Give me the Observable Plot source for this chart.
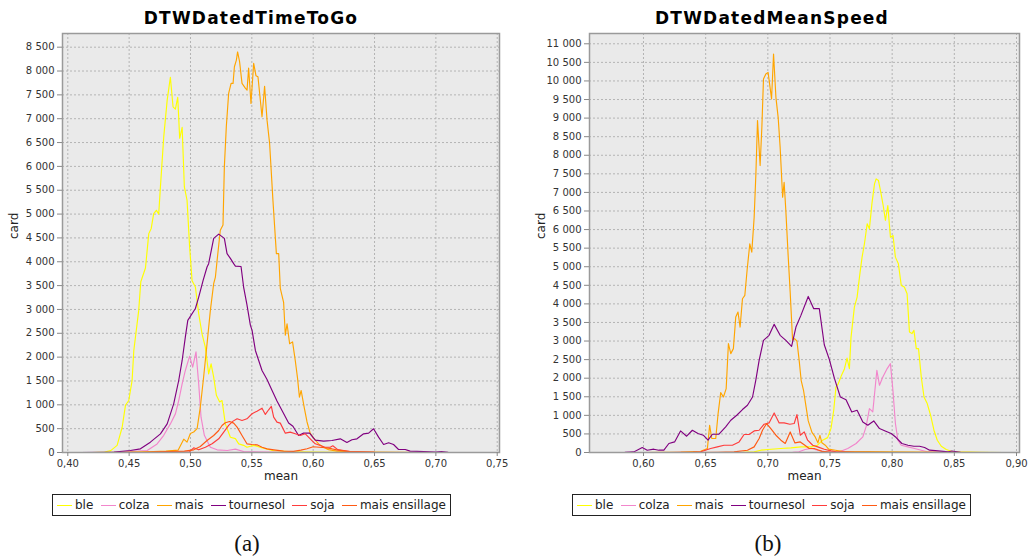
<!DOCTYPE html>
<html><head><meta charset="utf-8">
<script src="https://cdn.jsdelivr.net/npm/d3@7"></script>
<script src="https://cdn.jsdelivr.net/npm/@observablehq/plot@0.6"></script>
<style>
body{margin:0;background:#fff;}
#root{position:relative;width:1030px;height:559px;font-family:"DejaVu Sans",sans-serif;overflow:hidden;}
.title{position:absolute;top:10px;line-height:17px;font-weight:bold;font-size:17px;letter-spacing:1.2px;white-space:nowrap;transform:translateX(-50%);color:#000;}
.legend{position:absolute;top:494px;border:1px solid #222;display:flex;align-items:center;justify-content:space-between;padding:0 4px;box-sizing:border-box;width:399px;height:22px;font-size:12px;color:#222;background:#fff;}
.item{display:flex;align-items:center;white-space:nowrap;}
.sw{display:inline-block;width:15px;height:0;border-top:1.5px solid #000;margin-right:3px;}
.cap{position:absolute;top:530px;line-height:28px;font-family:"Liberation Serif",serif;font-size:23px;transform:translateX(-50%);color:#111;}
.panel{position:absolute;top:0;}
</style>
</head><body>
<div id="root"></div>
<script>
// ---------- data ----------
const seriesNames = ["ble", "colza", "mais", "tournesol", "soja", "mais ensillage"];
const seriesColors = ["#ffff00", "#f286cc", "#ffa500", "#800080", "#ff3c3c", "#ff5a14"];

const titleA = "DTWDatedTimeToGo";
const titleB = "DTWDatedMeanSpeed";
const xTicksA = [0.40, 0.45, 0.50, 0.55, 0.60, 0.65, 0.70, 0.75];
const xTicksB = [0.60, 0.65, 0.70, 0.75, 0.80, 0.85, 0.90];
const yTicksA = d3.range(0, 8501, 500);
const yTicksB = d3.range(0, 11001, 500);

// panel (a): [mean, card]
const aBle = [[0.41,0],[0.42,0],[0.43,10],[0.435,40],[0.4402,150],[0.4443,530],[0.447,990],[0.4497,1090],[0.4524,1510],[0.4538,2140],[0.4578,2980],[0.4595,3580],[0.4633,3870],[0.466,4590],[0.468,4700],[0.470,5010],[0.4722,5080],[0.4741,5000],[0.4755,5570],[0.4782,6620],[0.481,7390],[0.4836,7870],[0.4858,7250],[0.4877,7200],[0.4896,7450],[0.4912,6590],[0.4932,6820],[0.495,5570],[0.4972,5290],[0.4993,4310],[0.5013,3600],[0.504,3470],[0.5067,2910],[0.5094,2490],[0.5121,2210],[0.5148,1650],[0.5168,1860],[0.5189,1580],[0.5211,1200],[0.5238,1060],[0.5257,1090],[0.5284,600],[0.5325,320],[0.5366,290],[0.5393,180],[0.5433,150],[0.546,110],[0.5515,150],[0.558,100],[0.5677,40],[0.58,20],[0.60,10],[0.62,5],[0.65,0],[0.70,0]];
const aColza = [[0.42,0],[0.44,5],[0.451,20],[0.4647,42],[0.4728,180],[0.4782,360],[0.4836,600],[0.4877,810],[0.4904,1090],[0.4932,1440],[0.4958,1720],[0.4993,2020],[0.5018,1790],[0.5045,2110],[0.5067,1440],[0.5086,740],[0.5113,360],[0.5162,110],[0.5217,56],[0.53,42],[0.5366,70],[0.5433,20],[0.56,10],[0.60,0]];
const aMais = [[0.43,0],[0.45,10],[0.47,20],[0.48,30],[0.49,50],[0.4945,280],[0.4972,217],[0.4999,400],[0.5026,430],[0.5054,500],[0.508,950],[0.5107,1580],[0.5135,2280],[0.5162,2980],[0.5189,3540],[0.5203,3680],[0.5217,4030],[0.5243,4660],[0.5265,4770],[0.5276,5990],[0.5292,6830],[0.5311,7530],[0.5331,7740],[0.5347,7740],[0.5358,8090],[0.5374,8230],[0.5384,8400],[0.540,8200],[0.542,7740],[0.5447,7640],[0.5461,7600],[0.5474,8060],[0.5493,7320],[0.5515,8160],[0.5534,7900],[0.555,7880],[0.5583,7040],[0.5604,7680],[0.5624,6970],[0.5645,6480],[0.5672,5290],[0.57,4170],[0.5719,4170],[0.5732,3440],[0.5759,3150],[0.5773,2460],[0.5787,2700],[0.5808,2280],[0.5832,2320],[0.5854,1930],[0.5873,1550],[0.5888,1160],[0.5902,1300],[0.5928,930],[0.595,640],[0.5976,400],[0.6003,300],[0.6044,180],[0.6085,110],[0.6125,60],[0.6194,28],[0.63,15],[0.65,10],[0.70,0]];
const aTournesol = [[0.41,0],[0.43,5],[0.4377,10],[0.451,42],[0.4592,77],[0.4673,217],[0.4755,390],[0.481,600],[0.4863,1020],[0.4904,1510],[0.4932,1930],[0.4958,2420],[0.4978,2770],[0.504,3020],[0.5067,3260],[0.5103,3610],[0.5135,3890],[0.5148,3960],[0.5189,4490],[0.523,4580],[0.5276,4490],[0.5298,4170],[0.5325,4070],[0.5352,3960],[0.5366,3910],[0.5412,3900],[0.5433,3470],[0.546,3100],[0.5488,2670],[0.5502,2560],[0.5529,2140],[0.5583,1720],[0.5624,1530],[0.5665,1300],[0.5705,1080],[0.5746,880],[0.58,620],[0.5835,550],[0.5881,357],[0.5922,406],[0.5971,406],[0.6017,260],[0.6085,238],[0.6153,252],[0.6221,287],[0.6275,210],[0.6316,267],[0.6357,287],[0.6411,392],[0.6452,406],[0.6492,497],[0.6533,322],[0.6574,168],[0.6615,203],[0.6655,168],[0.6696,63],[0.675,63],[0.679,28],[0.69,21],[0.70,10],[0.7045,20],[0.71,5],[0.72,0],[0.74,0]];
const aSoja = [[0.46,0],[0.49,10],[0.4993,15],[0.5026,98],[0.5067,56],[0.5121,111],[0.5176,182],[0.523,287],[0.5271,427],[0.5311,567],[0.5347,658],[0.538,707],[0.542,672],[0.546,707],[0.5502,813],[0.5542,867],[0.5583,930],[0.561,798],[0.5637,896],[0.5659,966],[0.5678,741],[0.5705,637],[0.5732,616],[0.5773,406],[0.5813,427],[0.5854,392],[0.5895,357],[0.5936,392],[0.5976,287],[0.6017,182],[0.6058,147],[0.6098,111],[0.6139,111],[0.616,140],[0.62,60],[0.63,20],[0.65,5],[0.68,0]];
const aEnsillage = [[0.46,0],[0.48,20],[0.495,30],[0.5026,56],[0.508,126],[0.5135,252],[0.5189,357],[0.523,462],[0.5257,567],[0.5284,623],[0.5319,651],[0.5352,616],[0.538,532],[0.542,357],[0.546,182],[0.5502,168],[0.5542,161],[0.5583,111],[0.5624,77],[0.568,56],[0.5759,28],[0.584,25],[0.59,50],[0.595,80],[0.60,120],[0.605,110],[0.61,100],[0.615,80],[0.62,50],[0.63,20],[0.65,5],[0.68,0]];

// panel (b): [mean, card]
const bBle = [[0.66,0],[0.68,5],[0.689,16],[0.6944,62],[0.70,80],[0.7105,107],[0.7185,124],[0.7266,151],[0.7347,151],[0.74,196],[0.744,331],[0.7481,400],[0.7508,650],[0.753,1137],[0.7548,1763],[0.7567,1855],[0.7589,2050],[0.7616,2250],[0.7637,2540],[0.7656,2258],[0.7669,3100],[0.7696,3914],[0.7718,4183],[0.7737,4720],[0.7758,5258],[0.7777,5618],[0.7799,6156],[0.7817,6021],[0.7837,6693],[0.7858,7231],[0.7871,7365],[0.789,7320],[0.7911,6962],[0.793,6601],[0.7946,6245],[0.7965,6648],[0.7986,5796],[0.8007,5841],[0.8026,5258],[0.805,5080],[0.8073,4497],[0.8098,4452],[0.812,4274],[0.8139,3242],[0.8159,3199],[0.8175,3288],[0.8194,2796],[0.8212,2796],[0.8234,2032],[0.8256,1494],[0.8282,1317],[0.8309,1003],[0.8336,599],[0.8363,331],[0.8395,169],[0.8435,81],[0.8476,35],[0.853,16],[0.87,5],[0.89,0]];
const bColza = [[0.70,0],[0.72,5],[0.725,20],[0.73,80],[0.735,110],[0.74,60],[0.745,30],[0.75,10],[0.757,10],[0.7643,107],[0.771,242],[0.7764,419],[0.779,688],[0.7817,1183],[0.7844,1091],[0.7877,2212],[0.7898,1809],[0.7925,2032],[0.796,2258],[0.7986,2392],[0.8006,1675],[0.8026,780],[0.8046,331],[0.8073,196],[0.8127,151],[0.818,107],[0.8234,62],[0.829,15],[0.84,5],[0.86,0]];
const bMais = [[0.60,0],[0.63,10],[0.646,35],[0.6514,107],[0.6532,734],[0.6549,376],[0.6581,376],[0.66,1048],[0.6621,1610],[0.6643,1494],[0.6665,1720],[0.6683,2930],[0.6702,2661],[0.6723,2796],[0.6742,3645],[0.676,3779],[0.6777,3376],[0.6796,4139],[0.6815,4228],[0.6833,4900],[0.6855,5618],[0.6871,5392],[0.689,6333],[0.6904,7500],[0.6917,8932],[0.6938,7723],[0.6952,8752],[0.6965,10053],[0.6984,10187],[0.7002,10231],[0.703,9516],[0.7046,10725],[0.7065,9559],[0.7083,9021],[0.7099,8215],[0.7119,6870],[0.7131,7274],[0.7145,6500],[0.7164,5260],[0.718,4300],[0.7199,3019],[0.7215,3064],[0.7234,3000],[0.7252,2481],[0.7268,1943],[0.7287,1675],[0.7306,1260],[0.7325,850],[0.7355,540],[0.7381,419],[0.7403,260],[0.7419,460],[0.7435,260],[0.7462,196],[0.7489,90],[0.7543,62],[0.76,30],[0.80,20],[0.85,5],[0.88,0]];
const bTournesol = [[0.57,0],[0.585,5],[0.5922,16],[0.599,134],[0.603,62],[0.6083,89],[0.6123,62],[0.6164,62],[0.6204,242],[0.625,285],[0.6298,581],[0.6347,438],[0.6393,599],[0.6438,511],[0.6481,465],[0.6519,331],[0.6554,492],[0.6607,492],[0.6661,688],[0.6702,868],[0.675,1003],[0.6796,1156],[0.6836,1271],[0.6877,1494],[0.6903,1943],[0.693,2481],[0.6965,3019],[0.701,3153],[0.7051,3449],[0.7099,3153],[0.7145,3019],[0.7191,2857],[0.7226,3376],[0.7266,3690],[0.7325,4200],[0.7369,3871],[0.7414,3871],[0.7454,2900],[0.7495,2500],[0.7535,2000],[0.7583,1494],[0.7629,1420],[0.7675,1091],[0.7718,1137],[0.7764,823],[0.7804,734],[0.7852,849],[0.7898,645],[0.7944,581],[0.7992,511],[0.8032,403],[0.8078,242],[0.8127,196],[0.8175,169],[0.822,169],[0.8261,134],[0.8301,62],[0.8369,43],[0.845,16],[0.848,40],[0.855,5],[0.87,0]];
const bSoja = [[0.62,0],[0.64,10],[0.646,20],[0.654,107],[0.6594,151],[0.6648,196],[0.6715,196],[0.6769,285],[0.6809,484],[0.6849,484],[0.689,581],[0.693,599],[0.697,761],[0.701,796],[0.7051,1064],[0.7091,796],[0.7131,796],[0.7177,761],[0.7212,780],[0.7234,1021],[0.7261,465],[0.7293,554],[0.732,331],[0.7361,196],[0.7401,151],[0.7454,89],[0.7508,43],[0.756,15],[0.77,5],[0.80,0]];
const bEnsillage = [[0.64,0],[0.66,8],[0.6728,16],[0.6836,62],[0.689,151],[0.693,376],[0.6957,599],[0.699,780],[0.7024,645],[0.7065,465],[0.7105,331],[0.714,242],[0.718,554],[0.7218,258],[0.7261,285],[0.7298,196],[0.7333,107],[0.7373,107],[0.7435,30],[0.75,10],[0.77,0]];

// ---------- drawing ----------
const loc = d3.formatLocale({decimal: ",", thousands: "\u00a0", grouping: [3], currency: ["", ""]});
const fmtY = loc.format(",d");
const fmtX = loc.format(".2f");

function panel(seriesList, xDomain, yDomain, xTicks, yTicks, marginLeft, marginRight) {
  const marks = [
    Plot.frame({fill: "#eaeaea", stroke: null}),
    Plot.gridX(xTicks, {stroke: "#b4b4b4", strokeOpacity: 1, strokeDasharray: "2,2", strokeWidth: 1}),
    Plot.gridY(yTicks, {stroke: "#b4b4b4", strokeOpacity: 1, strokeDasharray: "2,2", strokeWidth: 1}),
  ];
  seriesList.forEach((s, i) => {
    marks.push(Plot.line(s, {x: d => d[0], y: d => d[1], stroke: seriesColors[i], strokeWidth: 1.15, clip: true}));
  });
  marks.push(
    Plot.frame({stroke: "#9a9a9a", strokeWidth: 1.5}),
    Plot.axisX(xTicks, {tickFormat: fmtX, tickSize: 4, tickPadding: 3, fontSize: 10, color: "#333", stroke: "#888", label: null}),
    Plot.axisY(yTicks, {tickFormat: fmtY, tickSize: 5, tickPadding: 3, fontSize: 10, color: "#333", stroke: "#888", label: null}),
    Plot.text(["mean"], {frameAnchor: "bottom", dy: 27, fontSize: 12, fill: "#222"}),
    Plot.text(["card"], {frameAnchor: "left", dx: -48, dy: -4, rotate: -90, fontSize: 12, fill: "#222"})
  );
  return Plot.plot({
    width: 515, height: 495,
    marginTop: 33, marginBottom: 43, marginLeft, marginRight,
    style: {fontFamily: "DejaVu Sans, sans-serif", background: "transparent", overflow: "visible"},
    x: {domain: xDomain, axis: null},
    y: {domain: yDomain, axis: null},
    marks
  });
}

const root = document.getElementById("root");

function addPanel(svg, left) {
  const d = document.createElement("div");
  d.className = "panel";
  d.style.left = left + "px";
  d.appendChild(svg);
  root.appendChild(d);
}
addPanel(panel([aBle, aColza, aMais, aTournesol, aSoja, aEnsillage], [0.39568, 0.75187], [0, 8787], xTicksA, yTicksA, 62, 16), 0);
addPanel(panel([bBle, bColza, bMais, bTournesol, bSoja, bEnsillage], [0.55657, 0.90241], [0, 11277], xTicksB, yTicksB, 74, 11), 515);

function addTitle(text, cx) {
  const t = document.createElement("div");
  t.className = "title"; t.style.left = cx + "px"; t.textContent = text;
  root.appendChild(t);
}
addTitle(titleA, 251);
addTitle(titleB, 772);

function addLegend(left) {
  const lg = document.createElement("div");
  lg.className = "legend"; lg.style.left = left + "px";
  seriesNames.forEach((n, i) => {
    const it = document.createElement("span"); it.className = "item";
    const sw = document.createElement("span"); sw.className = "sw"; sw.style.borderTopColor = seriesColors[i];
    it.appendChild(sw);
    it.appendChild(document.createTextNode(n));
    lg.appendChild(it);
  });
  root.appendChild(lg);
}
addLegend(52);
addLegend(572);

function addCap(text, cx) {
  const c = document.createElement("div");
  c.className = "cap"; c.style.left = cx + "px"; c.textContent = text;
  root.appendChild(c);
}
addCap("(a)", 247);
addCap("(b)", 768);
</script>
</body></html>
